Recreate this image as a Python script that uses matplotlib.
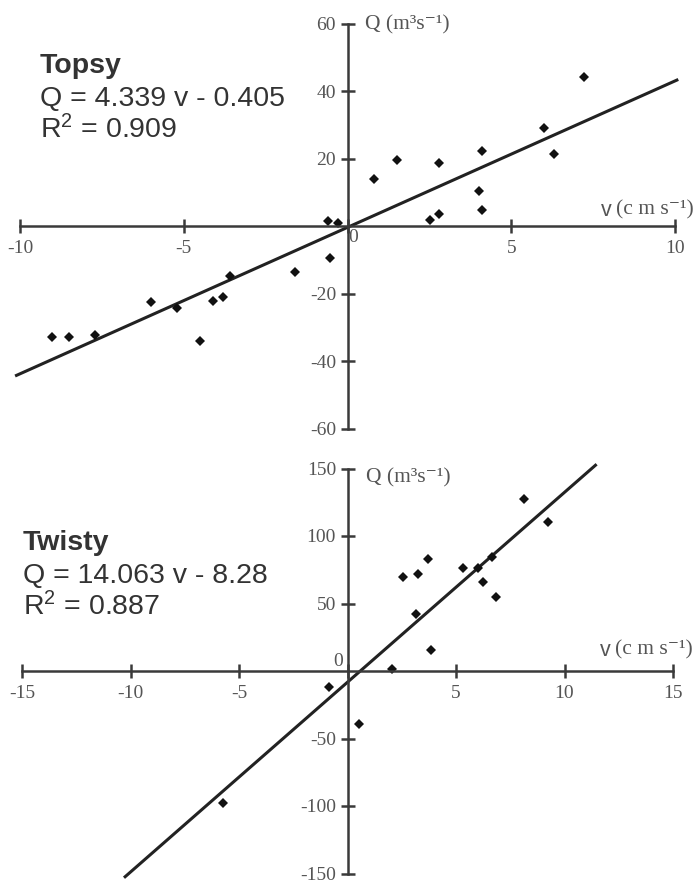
import matplotlib
matplotlib.use("Agg")
import matplotlib.pyplot as plt
import numpy as np

plt.rcParams['axes.unicode_minus'] = False
plt.rcParams['mathtext.fontset'] = 'custom'
plt.rcParams['mathtext.rm'] = 'Liberation Sans'
plt.rcParams['mathtext.it'] = 'Liberation Sans:italic'
plt.rcParams['mathtext.bf'] = 'Liberation Sans:bold'

# ---------------- data ----------------
topsy_v = [7.21, 6.00, 6.31, 4.12, 4.02, 4.12, 2.79, 2.79, 2.51, 1.52, 0.80,
           -0.59, -0.29, -0.52, -1.61, -3.60, -3.80, -4.11, -4.50, -5.21,
           -5.99, -7.71, -8.50, -9.01]
topsy_q = [44.1, 29.1, 21.4, 22.2, 10.4, 4.6, 18.7, 3.5, 1.9, 19.6, 14.0,
           1.5, 1.0, -9.4, -13.6, -14.7, -21.1, -22.2, -34.0, -24.4,
           -22.4, -32.3, -33.0, -33.0]
topsy_slope, topsy_icpt = 4.339, -0.405
topsy_line_range = [-10.15, 10.1]

twisty_v = [8.13, 9.22, 3.72, 3.23, 2.54, 5.34, 6.03, 6.64, 6.23, 6.83,
            3.16, 3.83, 2.04, -0.84, 0.54, -5.75]
twisty_q = [127.4, 110.6, 83.0, 72.1, 69.6, 76.3, 76.3, 84.7, 65.7, 54.8,
            42.5, 15.6, 1.5, -11.6, -39.5, -98.0]
twisty_slope, twisty_icpt = 14.063, -8.28
twisty_line_range = [-10.3, 11.48]

top_xticks = [-10, -5, 0, 5, 10]
top_xlabels = ['-10', '-5', '', '5', '10']
top_yticks = [-60, -40, -20, 20, 40, 60]
bot_xticks = [-15, -10, -5, 0, 5, 10, 15]
bot_xlabels = ['-15', '-10', '-5', '', '5', '10', '15']
bot_yticks = [-150, -100, -50, 50, 100, 150]

W, H = 698, 883
fig = plt.figure(figsize=(W / 100, H / 100), dpi=100)

AX_COL = '#3a3a3a'
LBL_COL = '#555555'
TXT_COL = '#333333'
SERIF = ['Liberation Serif', 'DejaVu Serif']
SANS = 'Liberation Sans'


def style_axes(ax, xb, yb, xticks, xlabels, yticks):
    for s in ['top', 'right']:
        ax.spines[s].set_visible(False)
    for s in ['left', 'bottom']:
        ax.spines[s].set_position(('data', 0))
        ax.spines[s].set_color(AX_COL)
        ax.spines[s].set_linewidth(1.8)
    ax.spines['bottom'].set_bounds(*xb)
    ax.spines['left'].set_bounds(*yb)
    ax.set_xticks(xticks)
    ax.set_xticklabels(xlabels)
    ax.set_yticks(yticks)
    ax.set_yticklabels([str(t) for t in yticks])
    ax.tick_params(axis='both', direction='inout', length=9.5, width=1.8,
                   color=AX_COL, labelcolor=LBL_COL, labelsize=14)
    ax.tick_params(axis='x', pad=5.5)
    ax.tick_params(axis='y', pad=3.5)
    for lab in ax.get_xticklabels() + ax.get_yticklabels():
        lab.set_fontfamily(SERIF)
    ax.patch.set_alpha(0)


def ftext(x, y, s, **kw):
    fig.text(x / W, 1 - y / H, s, **kw)


# ---------------- top panel ----------------
ax1 = fig.add_axes([0, 1 - 440 / H, 1, 440 / H])
ax1.set_xlim(-347.5 / 32.75, 350.5 / 32.75)
ax1.set_ylim((226 - 440) / 3.375, 226 / 3.375)
style_axes(ax1, (-10, 10), (-60, 60), top_xticks, top_xlabels, top_yticks)
xl = np.array(topsy_line_range)
ax1.plot(xl, topsy_slope * xl + topsy_icpt, color='#222222', lw=2.2,
         solid_capstyle='butt')
ax1.plot(topsy_v, topsy_q, 'D', color='#111111', ms=5.4, mew=0)

# ---------------- bottom panel ----------------
ax2 = fig.add_axes([0, 0, 1, 443 / H])
ax2.set_xlim(-347.5 / 21.7, 350.5 / 21.7)
ax2.set_ylim((671 - 883) / 1.35, (671 - 440) / 1.35)
style_axes(ax2, (-15, 15), (-150, 150), bot_xticks, bot_xlabels, bot_yticks)
xl = np.array(twisty_line_range)
ax2.plot(xl, twisty_slope * xl + twisty_icpt, color='#222222', lw=2.2,
         solid_capstyle='butt')
ax2.plot(twisty_v, twisty_q, 'D', color='#111111', ms=5.4, mew=0)

# ---------------- texts ----------------
# zero labels
ftext(353, 237, '0', family=SERIF, fontsize=14, color=LBL_COL,
      ha='center', va='center')
ftext(338, 662, '0', family=SERIF, fontsize=14, color=LBL_COL,
      ha='center', va='center')

# axis labels
for (qx, qy), (vx, vy) in [((365, 25), (601, 210)), ((366, 478), (600, 650))]:
    ftext(qx, qy, 'Q (m³s⁻¹)', family=SERIF, fontsize=15.5,
          color=LBL_COL, ha='left', va='center')
    ftext(vx, vy, 'v', family=SANS, fontsize=15.5, color=LBL_COL,
          ha='left', va='center')
    ftext(vx + 15, vy, '(c m s⁻¹)', family=SERIF, fontsize=15.5,
          color=LBL_COL, ha='left', va='center')

# equation annotations
FS = 20.5
ftext(40, 73, 'Topsy', family=SANS, fontweight='bold', fontsize=FS,
      color=TXT_COL, va='baseline')
ftext(40, 106, 'Q = 4.339 v - 0.405', family=SANS, fontsize=FS,
      color=TXT_COL, va='baseline')
ftext(40, 138, r'R$^2$ = 0.909', family=SANS, fontsize=FS,
      color=TXT_COL, va='baseline')

ftext(23, 550, 'Twisty', family=SANS, fontweight='bold', fontsize=FS,
      color=TXT_COL, va='baseline')
ftext(23, 583, 'Q = 14.063 v - 8.28', family=SANS, fontsize=FS,
      color=TXT_COL, va='baseline')
ftext(23, 615, r'R$^2$ = 0.887', family=SANS, fontsize=FS,
      color=TXT_COL, va='baseline')

fig.savefig('out.png', dpi=100)
